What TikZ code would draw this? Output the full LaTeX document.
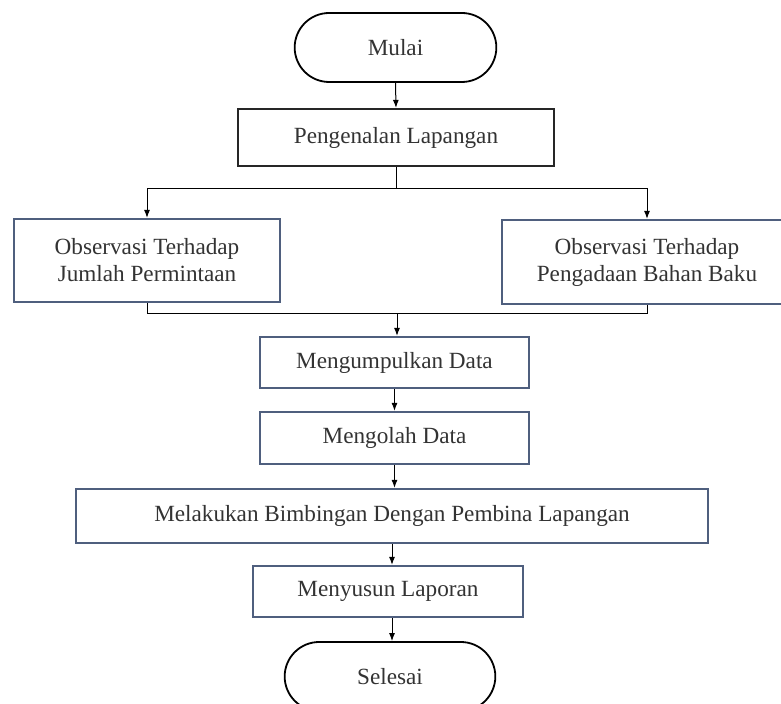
\documentclass[tikz,border=0pt]{standalone}
\usepackage{fontspec}
\setmainfont{Liberation Serif}
\usepackage{tikz}
\usetikzlibrary{shapes.misc,arrows.meta}
\definecolor{boxblue}{HTML}{4F5F7E}
\definecolor{txtgray}{HTML}{333333}
\tikzset{
  terminal/.style={rounded rectangle, draw=black, line width=0.9pt, text=txtgray,
    minimum width=112pt, minimum height=34.5pt},
  procbox/.style={rectangle, draw=boxblue, line width=1.1pt, text=txtgray,
    align=center, inner sep=2pt},
  flow/.style={line width=0.5pt, -{Latex[length=4pt,width=3pt]}},
  plainline/.style={line width=0.5pt}
}
\begin{document}
\begin{tikzpicture}[x=0.5pt,y=-0.5pt,font=\fontsize{11.6}{13.5}\selectfont]

\useasboundingbox (0,0) rectangle (781,704);
\clip (0,0) rectangle (781,704);

% start and end
\node [terminal, minimum width=107.5pt] (mulai) at (395.5,47.5) {Mulai};
\node [terminal] (selesai) at (390,676.5) {Selesai};

% steps
\node [procbox, draw=black!85, minimum width=158pt, minimum height=28.5pt] (kenal) at (396,137.5) {Pengenalan Lapangan};
\node [procbox, minimum width=133pt, minimum height=41.5pt] (obsminta) at (147,260.5) {Observasi Terhadap\\Jumlah Permintaan};
\node [procbox, minimum width=145pt, minimum height=42pt] (obsbahan) at (647,262) {Observasi Terhadap\\Pengadaan Bahan Baku};
\node [procbox, minimum width=134.5pt, minimum height=25.5pt] (kumpul) at (394.5,362.5) {Mengumpulkan Data};
\node [procbox, minimum width=134.5pt, minimum height=26pt] (olah) at (394.5,438) {Mengolah Data};
\node [procbox, minimum width=316pt, minimum height=27pt] (bimbing) at (392,516) {Melakukan Bimbingan Dengan Pembina Lapangan};
\node [procbox, minimum width=135pt, minimum height=25.5pt] (susun) at (388,591.5) {Menyusun Laporan};

% branch points
\coordinate (cabang) at (396,189);
\coordinate (gabung) at (397,314);

% connectors
\draw [flow] (mulai.south) -- (kenal.north);
\draw [plainline] (kenal.south) -- (cabang);
\draw [flow] (cabang) -| (obsminta.north);
\draw [flow] (cabang) -| (obsbahan.north);
\draw [plainline] (obsminta.south) |- (gabung);
\draw [plainline] (obsbahan.south) |- (gabung);
\draw [flow] (gabung) -- (gabung |- kumpul.north);
\draw [flow] (kumpul.south) -- (olah.north);
\draw [flow] (olah.south) -- (olah.south |- bimbing.north);
\draw [flow] (bimbing.south) -- (bimbing.south |- susun.north);
\draw [flow] (susun.south -| bimbing.south) -- (selesai.north -| bimbing.south);

\end{tikzpicture}
\end{document}
